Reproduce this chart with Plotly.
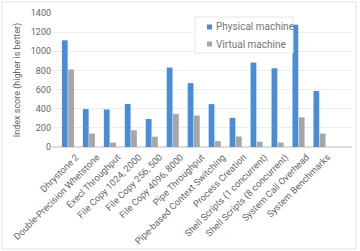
import plotly.graph_objects as go

categories = ["Dhrystone 2", "Double-Precision Whetstone", "Execl Throughput",
              "File Copy 1024, 2000", "File Copy 256, 500", "File Copy 4096, 8000",
              "Pipe Throughput", "Pipe-based Context Switching", "Process Creation",
              "Shell Scripts (1 concurrent)", "Shell Scripts (8 concurrent)",
              "System Call Overhead", "System Benchmarks"]
physical = [1115, 396, 392, 450, 292, 830, 667, 448, 305, 882, 823, 1278, 585]
virtual = [810, 140, 45, 175, 108, 346, 328, 62, 110, 55, 47, 310, 140]
y_ticks = [0, 200, 400, 600, 800, 1000, 1200, 1400]
series_names = ["Physical machine", "Virtual machine"]
series_colors = ["#4A8DD7", "#A6A6A6"]

# plot area in pixels
L, R, T, B = 52, 8, 13, 104
W, H = 360 - L - R, 251 - T - B

def px(x):
    return (x - L) / W

def py(y):
    return 1 - (y - T) / H

fig = go.Figure()
for name, vals, col in zip(series_names, [physical, virtual], series_colors):
    fig.add_trace(go.Bar(x=categories, y=vals, name=name,
                         marker=dict(color=col, line=dict(width=0))))

shapes = [dict(type="rect", xref="paper", yref="paper",
               x0=px(2), x1=px(356), y0=py(249), y1=py(2),
               line=dict(color="#E3E3E3", width=1), fillcolor="rgba(0,0,0,0)",
               layer="below"),
          dict(type="rect", xref="paper", yref="paper",
               x0=px(195), x1=px(293), y0=py(53), y1=py(17),
               line=dict(color="#E6E6E6", width=1), fillcolor="white",
               layer="above")]
annotations = []
for i, (name, col) in enumerate(zip(series_names, series_colors)):
    cy = 27 + i * 17
    shapes.append(dict(type="rect", xref="paper", yref="paper",
                       x0=px(207), x1=px(212), y0=py(cy + 2.5), y1=py(cy - 2.5),
                       line=dict(width=0), fillcolor=col, layer="above"))
    annotations.append(dict(text=name, xref="paper", yref="paper",
                            x=px(214), y=py(cy), xanchor="left", yanchor="middle",
                            showarrow=False,
                            font=dict(size=10, color="#757575")))

fig.update_layout(
    width=360, height=251,
    margin=dict(l=L, r=R, t=T, b=B, autoexpand=False),
    paper_bgcolor="white", plot_bgcolor="white",
    font=dict(family="Roboto, Arial, sans-serif", size=9, color="#666666"),
    barmode="group", bargap=0.4, bargroupgap=0.08,
    showlegend=False,
    xaxis=dict(type="category", tickangle=-45, range=[-0.76, 13.55],
               automargin=False,
               showgrid=False, ticks="", showline=False,
               ticklabelshift=8, ticklabelstandoff=2,
               tickfont=dict(size=9.3, color="#666666")),
    yaxis=dict(range=[0, 1400], tickvals=y_ticks, showgrid=True,
               automargin=False,
               gridcolor="#EEEEEE", zeroline=True, zerolinecolor="#DDDDDD",
               ticks="", tickfont=dict(size=9, color="#666666"),
               title=dict(text="Index score (higher is better)",
                          font=dict(size=9, color="#666666"), standoff=8)),
    shapes=shapes,
    annotations=annotations,
)

fig.write_html("out.html")
